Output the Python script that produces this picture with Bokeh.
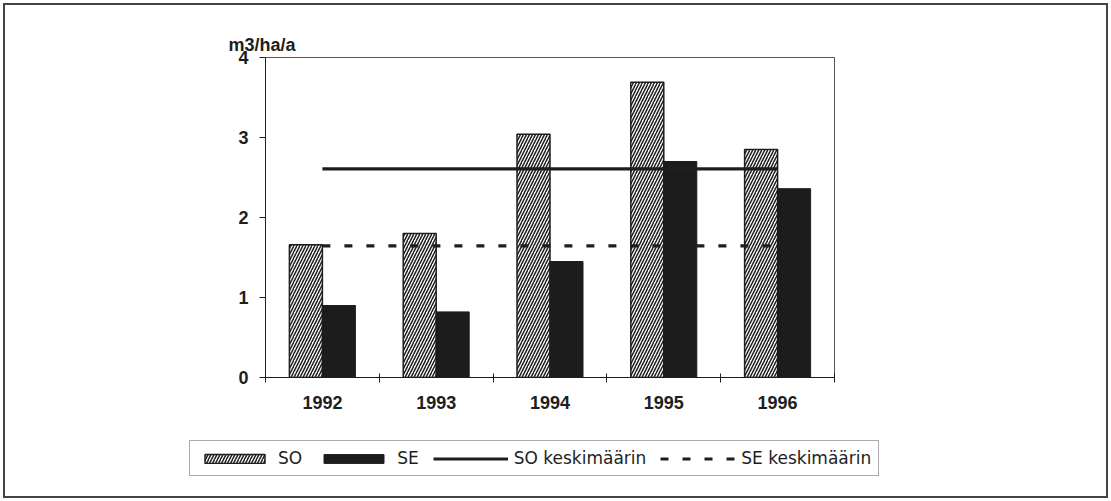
import numpy as np
from bokeh.plotting import figure
from bokeh.models import (ColumnDataSource, Range1d, FixedTicker, Legend, LegendItem, Title)
from bokeh.layouts import column
from bokeh.transform import dodge
from bokeh.embed import file_html
from bokeh.resources import INLINE

years = ["1992", "1993", "1994", "1995", "1996"]
so_values = [1.66, 1.80, 3.04, 3.69, 2.85]
se_values = [0.90, 0.82, 1.45, 2.70, 2.36]
y_ticks = [0, 1, 2, 3, 4]
unit_label = "m3/ha/a"
legend_labels = ["SO", "SE", "SO keskimäärin", "SE keskimäärin"]

xpos = np.arange(len(years)) + 0.5
src = ColumnDataSource(dict(x=xpos, so=so_values, se=se_values))
so_mean = float(np.mean(so_values))
se_mean = float(np.mean(se_values))
lsrc = ColumnDataSource(dict(x=[xpos[0], xpos[-1]], so=[so_mean, so_mean], se=[se_mean, se_mean]))

W, H1, H2 = 1111, 430, 71
FONT = "Liberation Sans"
INK = "#1e1e1e"

# ---------------- main chart ----------------
p = figure(width=W, height=H1, output_backend="svg", toolbar_location=None,
           x_range=Range1d(0, len(years)), y_range=Range1d(0, 4),
           min_border_left=265, min_border_right=277, min_border_top=57,
           min_border_bottom=53, background_fill_color="white",
           border_fill_alpha=0)
p.frame_align = False
p.outline_line_color = "#555"
p.outline_line_width = 1
p.xgrid.visible = False
p.ygrid.visible = False

p.xaxis.ticker = FixedTicker(ticks=list(xpos), minor_ticks=list(np.arange(len(years) + 1)))
p.xaxis.major_label_overrides = {float(x): y for x, y in zip(xpos, years)}
p.xaxis.major_tick_in = 0
p.xaxis.major_tick_out = 0
p.xaxis.minor_tick_in = 4
p.xaxis.minor_tick_out = 5
p.xaxis.minor_tick_line_color = INK
p.xaxis.major_label_standoff = 13
p.xaxis.axis_line_color = INK
p.yaxis.ticker = FixedTicker(ticks=y_ticks, minor_ticks=[])
p.yaxis.major_tick_in = 0
p.yaxis.major_tick_out = 6
p.yaxis.major_tick_line_color = INK
p.yaxis.major_label_standoff = 11
p.yaxis.axis_line_color = INK
for ax in (p.xaxis, p.yaxis):
    ax.major_label_text_font = FONT
    ax.major_label_text_font_size = "18px"
    ax.major_label_text_font_style = "bold"
    ax.major_label_text_color = INK

bw = 0.29
so_style = dict(fill_color="white", line_color=INK, line_width=1.5,
                hatch_pattern="/", hatch_scale=6, hatch_weight=1.5, hatch_color=INK)
se_style = dict(fill_color="#1c1c1c", line_color="#1c1c1c", line_width=1)
sol_style = dict(line_color=INK, line_width=3.2)
sel_style = dict(line_color=INK, line_width=3.2, line_dash="8 14")


def draw_series(fig, visible=True):
    a = fig.vbar(x=dodge("x", -0.145, range=fig.x_range), top="so", width=bw,
                 source=src, visible=visible, **so_style)
    b = fig.vbar(x=dodge("x", 0.145, range=fig.x_range), top="se", width=bw,
                 source=src, visible=visible, **se_style)
    c = fig.line("x", "so", source=lsrc, visible=visible, **sol_style)
    d = fig.line("x", "se", source=lsrc, visible=visible, **sel_style)
    return [a, b, c, d]


draw_series(p)

p.add_layout(Title(text=unit_label, align="left", offset=-37, standoff=6,
                   text_font=FONT, text_font_size="18px", text_font_style="bold",
                   text_color=INK), "above")

# ---------------- legend strip ----------------
q = figure(width=W, height=H2, output_backend="svg", toolbar_location=None,
           x_range=Range1d(0, len(years)), y_range=Range1d(0, 4),
           x_axis_type=None, y_axis_type=None,
           min_border_left=0, min_border_right=0, min_border_top=0, min_border_bottom=0,
           background_fill_alpha=0, border_fill_alpha=0)
q.frame_align = False
q.outline_line_color = None
q.xgrid.visible = False
q.ygrid.visible = False
hidden = draw_series(q, visible=False)

legend = Legend(items=[LegendItem(label=lab, renderers=[r]) for lab, r in
                       zip(legend_labels, hidden)],
                orientation="horizontal", location=(189, 25),
                glyph_width=75, glyph_height=11, label_standoff=6, spacing=14,
                padding=7, margin=0, label_text_font="DejaVu Sans",
                label_text_font_size="17px", label_text_color=INK,
                border_line_color="#555", border_line_width=1,
                background_fill_color="white", background_fill_alpha=1,
                inactive_fill_alpha=0)
q.add_layout(legend, "center")

layout = column(p, q, spacing=0,
                styles={"outline": "2px solid #444", "outline-offset": "-5px",
                        "background-color": "white"})

open("out.html", "w").write(file_html(layout, INLINE))
